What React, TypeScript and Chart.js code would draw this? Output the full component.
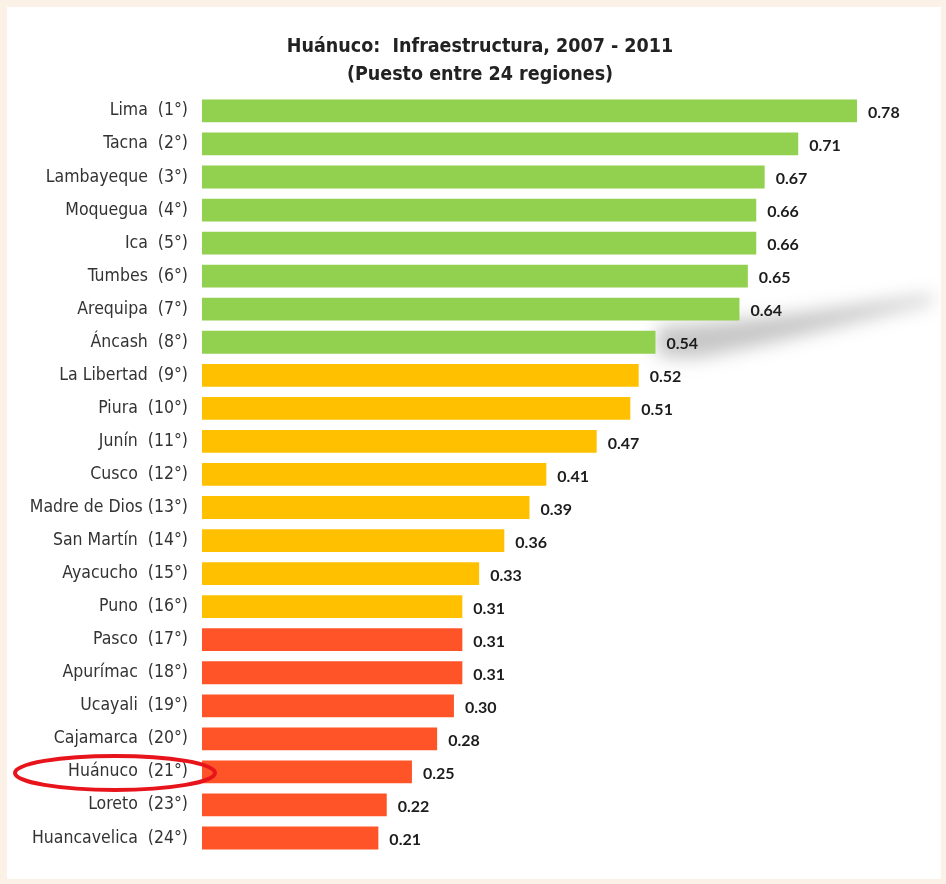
import React, { useEffect, useRef } from "react";
import { Chart, registerables } from "chart.js";

Chart.register(...registerables);

const regions = [
  "Lima  (1°)",
  "Tacna  (2°)",
  "Lambayeque  (3°)",
  "Moquegua  (4°)",
  "Ica  (5°)",
  "Tumbes  (6°)",
  "Arequipa  (7°)",
  "Áncash  (8°)",
  "La Libertad  (9°)",
  "Piura  (10°)",
  "Junín  (11°)",
  "Cusco  (12°)",
  "Madre de Dios (13°)",
  "San Martín  (14°)",
  "Ayacucho  (15°)",
  "Puno  (16°)",
  "Pasco  (17°)",
  "Apurímac  (18°)",
  "Ucayali  (19°)",
  "Cajamarca  (20°)",
  "Huánuco  (21°)",
  "Loreto  (23°)",
  "Huancavelica  (24°)",
];

const values = [
  0.78, 0.71, 0.67, 0.66, 0.66, 0.65, 0.64, 0.54, 0.52, 0.51, 0.47, 0.41,
  0.39, 0.36, 0.33, 0.31, 0.31, 0.31, 0.3, 0.28, 0.25, 0.22, 0.21,
];

const titleLines = [
  "Huánuco:  Infraestructura, 2007 - 2011",
  "(Puesto entre 24 regiones)",
];

const highlighted = "Huánuco  (21°)";
const greenCount = 8;
const orangeCount = 8;
const xMax = 0.88;

const GREEN = "#92D050";
const ORANGE = "#FFC000";
const RED = "#FF5428";
const NARROW = '"Liberation Sans Narrow", "Arial Narrow", "DejaVu Sans Condensed", sans-serif';

export default function App() {
  const ref = useRef<HTMLCanvasElement>(null);

  useEffect(() => {
    if (!ref.current) return;

    const colors = values.map((_, i) =>
      i < greenCount ? GREEN : i < greenCount + orangeCount ? ORANGE : RED
    );

    const shadowPlugin = {
      id: "shadowStreak",
      beforeDatasetsDraw(chart: any) {
        const meta = chart.getDatasetMeta(0);
        const bar = meta.data[7];
        if (!bar) return;
        const ctx = chart.ctx;
        const bx = bar.x;
        const by = bar.y;
        const rx = chart.width - 8;
        ctx.save();
        ctx.filter = "blur(9px)";
        ctx.fillStyle = "rgba(120,120,120,0.42)";
        ctx.beginPath();
        ctx.moveTo(bx + 2, by - 16);
        ctx.bezierCurveTo(bx + 110, by - 22, bx + 200, by - 38, rx, by - 47);
        ctx.lineTo(rx, by - 40);
        ctx.bezierCurveTo(bx + 200, by - 22, bx + 120, by + 2, bx + 40, by + 16);
        ctx.lineTo(bx + 2, by + 14);
        ctx.closePath();
        ctx.fill();
        ctx.restore();
      },
    };

    const labelPlugin = {
      id: "valueLabels",
      afterDatasetsDraw(chart: any) {
        const ctx = chart.ctx;
        const meta = chart.getDatasetMeta(0);
        ctx.save();
        ctx.font = 'bold 16px Lato, "Open Sans", sans-serif';
        ctx.fillStyle = "#1c1c1c";
        ctx.textAlign = "left";
        ctx.textBaseline = "middle";
        meta.data.forEach((bar: any, i: number) => {
          ctx.fillText(values[i].toFixed(2), bar.x + 11, bar.y + 2);
        });
        ctx.restore();
      },
    };

    const ellipsePlugin = {
      id: "highlightEllipse",
      afterDraw(chart: any) {
        const idx = regions.indexOf(highlighted);
        if (idx < 0) return;
        const y = chart.scales.y.getPixelForValue(idx);
        const ctx = chart.ctx;
        ctx.save();
        ctx.strokeStyle = "#E8141C";
        ctx.lineWidth = 4;
        ctx.beginPath();
        ctx.ellipse(chart.chartArea.left - 87, y + 1, 100, 17, 0, 0, Math.PI * 2);
        ctx.stroke();
        ctx.restore();
      },
    };

    const chart = new Chart(ref.current, {
      type: "bar",
      data: {
        labels: regions,
        datasets: [
          {
            data: values,
            backgroundColor: colors,
            borderWidth: 0,
            barPercentage: 0.69,
            categoryPercentage: 1,
          },
        ],
      },
      options: {
        indexAxis: "y",
        responsive: false,
        animation: false,
        layout: { padding: { left: 12, right: 0, top: 0, bottom: 19 } },
        plugins: {
          legend: { display: false },
          tooltip: { enabled: false },
          title: {
            display: true,
            text: titleLines,
            color: "#222222",
            font: { family: NARROW, size: 19.5, weight: "bold", lineHeight: 1.42 },
            padding: { top: 26, bottom: 6 },
          },
        },
        scales: {
          x: {
            display: false,
            min: 0,
            max: xMax,
          },
          y: {
            grid: { display: false, drawTicks: false },
            border: { display: false },
            ticks: {
              color: "#333333",
              padding: 14,
              font: { family: NARROW, size: 17.5 },
            },
            afterFit(scale: any) {
              scale.width = 183;
            },
          },
        },
      },
      plugins: [shadowPlugin, labelPlugin, ellipsePlugin],
    });

    return () => chart.destroy();
  }, []);

  return (
    <div
      style={{
        position: "fixed",
        left: 0,
        top: 0,
        width: 946,
        height: 884,
        background: "#FBF1E7",
      }}
    >
      <div
        style={{
          position: "absolute",
          left: 7,
          top: 7,
          width: 934,
          height: 872,
          background: "#FFFFFF",
        }}
      >
        <canvas ref={ref} width={934} height={872} />
      </div>
    </div>
  );
}
